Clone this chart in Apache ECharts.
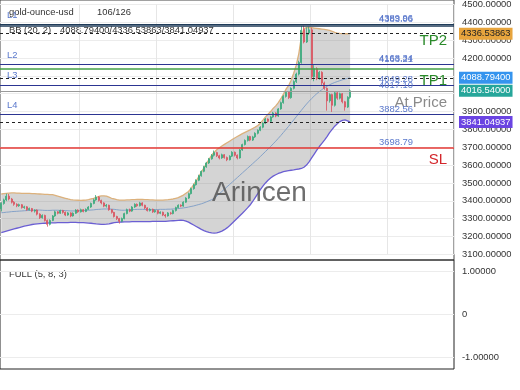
<!DOCTYPE html>
<html><head><meta charset="utf-8">
<script src="https://cdn.jsdelivr.net/npm/echarts@6/dist/echarts.min.js"></script>
<style>html,body{margin:0;padding:0;background:#fff}#c{width:520px;height:390px}</style>
</head><body><div id="c"></div>
<script>
// ---------- data ----------
const slotCount = 177; // visible time slots (candles + empty right margin)
const categories = Array.from({length: slotCount}, (_, i) => String(i));

// [open, close, low, high]
const candles = [
[3355,3385,3340,3392],[3385,3405,3378,3412],[3405,3426,3398,3440],[3426,3410,3402,3438],[3410,3392,3385,3416],
[3392,3380,3372,3398],[3380,3372,3364,3386],[3372,3378,3366,3384],[3378,3362,3356,3382],[3362,3366,3355,3372],
[3366,3350,3344,3370],[3350,3356,3345,3362],[3356,3342,3336,3360],[3342,3348,3334,3352],[3348,3325,3318,3352],
[3325,3305,3298,3330],[3305,3318,3300,3324],[3318,3290,3284,3322],[3290,3268,3255,3295],[3268,3290,3262,3296],
[3290,3315,3286,3320],[3315,3338,3310,3344],[3338,3330,3324,3342],[3330,3345,3326,3350],[3345,3335,3328,3349],
[3335,3320,3314,3340],[3320,3332,3316,3337],[3332,3315,3308,3336],[3315,3330,3311,3335],[3330,3348,3326,3353],
[3348,3338,3332,3352],[3338,3350,3334,3356],[3350,3340,3335,3354],[3340,3352,3336,3357],[3352,3365,3348,3370],
[3365,3385,3360,3390],[3385,3405,3380,3412],[3405,3420,3400,3432],[3420,3402,3396,3426],[3402,3388,3380,3406],
[3388,3370,3364,3392],[3370,3375,3362,3382],[3375,3350,3344,3378],[3350,3335,3328,3354],[3335,3312,3306,3338],
[3312,3300,3292,3316],[3300,3285,3272,3304],[3285,3300,3280,3306],[3300,3328,3296,3333],[3328,3350,3324,3356],
[3350,3342,3336,3356],[3342,3365,3338,3370],[3365,3380,3360,3386],[3380,3372,3366,3385],[3372,3388,3368,3394],
[3388,3375,3369,3392],[3375,3360,3354,3378],[3360,3345,3340,3364],[3345,3352,3340,3358],[3352,3338,3332,3356],
[3338,3346,3333,3351],[3346,3330,3324,3349],[3330,3336,3325,3341],[3336,3320,3314,3339],[3320,3315,3305,3326],
[3315,3332,3311,3337],[3332,3328,3322,3338],[3328,3345,3324,3350],[3345,3362,3340,3367],[3362,3375,3357,3380],
[3375,3370,3364,3380],[3370,3392,3366,3397],[3392,3415,3388,3420],[3415,3440,3410,3446],[3440,3468,3435,3474],
[3468,3490,3462,3496],[3490,3515,3485,3520],[3515,3540,3510,3546],[3540,3565,3535,3570],[3565,3590,3560,3596],
[3590,3612,3585,3618],[3612,3635,3606,3640],[3635,3655,3630,3662],[3655,3670,3648,3682],[3670,3652,3645,3675],
[3652,3640,3632,3658],[3640,3658,3635,3664],[3658,3642,3636,3662],[3642,3630,3622,3648],[3630,3650,3626,3655],
[3650,3672,3645,3678],[3672,3655,3648,3676],[3655,3640,3632,3660],[3640,3685,3636,3690],[3685,3715,3680,3720],
[3715,3738,3710,3744],[3738,3760,3732,3766],[3760,3740,3734,3764],[3740,3758,3735,3764],[3758,3778,3752,3784],
[3778,3795,3772,3800],[3795,3812,3790,3818],[3812,3835,3806,3840],[3835,3858,3830,3864],[3858,3845,3838,3862],
[3845,3870,3840,3876],[3870,3892,3865,3898],[3892,3875,3868,3896],[3875,3915,3870,3920],[3915,3950,3910,3956],
[3950,3985,3944,3992],[3985,4008,3978,4015],[4008,3978,3970,4012],[3978,4030,3972,4036],[4030,4068,4024,4075],
[4068,4110,4060,4118],[4110,4175,4102,4185],[4175,4355,4168,4380],[4360,4290,4282,4381],[4290,4340,4284,4372],
[4340,4358,4330,4376],[4358,4095,4080,4370],[4095,4140,4070,4160],[4140,4085,4076,4148],[4085,4120,4078,4128],
[4120,4060,4045,4126],[4060,4030,4022,4068],[4030,3960,3905,4036],[3960,3995,3950,4002],[3995,3935,3898,4000],
[3935,4005,3928,4015],[4005,3975,3966,4010],[3975,4000,3968,4006],[4000,3955,3946,4004],[3955,3925,3905,3960],
[3925,3980,3920,3986],[3980,4016.54,3972,4025]
];

const bbUpper = [
3438,3440,3442,3443,3444,3444,3443,3443,3442,3442,3441,3441,3440,3440,3439,3438,3437,3436,3436,3435,3434,
3430,3426,3422,3418,3414,3410,3407,3405,3404,3403,
3402,3403,3404,3406,3410,
3414,3419,3424,3427,3428,
3426,3420,3414,3410,3406,
3404,3404,3404,3405,3405,3406,3406,3407,3407,3407,3406,3406,3405,3405,3404,3404,3404,3404,3405,3406,
3408,3410,3414,3418,3425,3432,3442,
3452,3470,3490,3512,3535,3560,3584,3608,3632,3654,3672,3686,3697,3707,3716,3725,3734,3743,3752,3760,3768,3776,3783,3790,3797,3805,3813,
3822,3835,3852,3870,3885,3900,3918,3932,3950,3972,3998,4025,4045,4075,4115,4160,4225,4320,4365,4370,4372,4370,4368,4366,4364,4362,4360,4358,4355,4350,4344,4340,4338,4337,4336,4336,4336.53863
];
const bbMiddle = [
3333,3334,3336,3337,3339,3340,3341,3342,3343,3344,3345,
3346,3347,3347,3348,3348,3347,3346,3346,3346,3347,
3347,3347,3346,3346,3345,3344,3343,3343,3343,3344,
3345,3345,3346,3347,3348,3349,3351,3352,3353,3354,
3354,3354,3353,3352,3350,3348,3347,3347,3348,3349,
3350,3351,3352,3352,3352,3351,3350,3350,3350,3351,
3351,3352,3352,3352,3353,3353,3354,3355,3356,3358,
3360,3362,3365,3368,3371,3375,3379,3383,3388,3394,3400,3406,
3413,3426,3439,3452,3465,3478,3491,3504,3517,3530,
3543,3556,3569,3582,3595,3608,3621,3634,3648,3662,
3676,3690,3704,3719,3734,3750,3766,3783,3800,3817,
3835,3853,3871,3889,3907,3925,3942,3958,3973,3987,
4000,4012,4023,4033,4042,4050,4057,4063,4068,4073,
4078,4082,4086,4088.794
];
const bbLower = [
3222,3226,3230,3234,3238,3242,3246,3250,3254,3258,3261,3264,3267,3269,3271,3272,3273,3274,3275,3276,3276,
3276,3277,3277,3278,3278,3278,3279,3279,3279,3278,3278,3277,3276,3275,3274,
3272,3270,3269,3268,3268,3269,3271,3274,3277,3279,
3280,3281,3282,3282,3282,3283,3283,3283,3283,3283,3283,3283,3283,3284,3284,3284,3284,3285,3285,3286,3287,3288,3289,3290,3291,
3290,3286,3280,3272,3264,3256,3248,3240,3233,3227,3223,3220,3219,3220,3224,3230,3238,3248,3260,3274,3288,3302,3316,3330,3345,3360,3376,3396,3418,3440,
3462,3482,3500,3515,3528,3538,3546,3553,3558,3563,3566,3569,3571,3573,3576,3578,3581,3588,3600,3618,3640,3662,3684,3704,3722,3740,3760,3782,3800,3818,3832,3844,3851,3853,3848,3841.04937
];

const priceTicks = [3100, 4500, 100];       // min, max, step
const oscTicks = [-1, 1, 1];
const levelNames = ['L1', 'L2', 'L3', 'L4'];
const levelValues = [4383.06, 4163.21, 4049.28, 3882.56];
const extraLevelValues = [4389.96, 4168.34, 4017.10];
const bbLast = {middle: 4088.794, upper: 4336.53863, lower: 3841.04937};
const lastPrice = 4016.54;
const tp1 = 4138.6;
const tp2 = 4336.53863;
const stopLoss = 3698.79;

// ---------- chart ----------
const FONT = '"Liberation Sans", Arial, sans-serif';
const FS = 9.4;
const UP = '#3aa97c', DOWN = '#d9535f';
const LVL_TXT = '#5a78cc';
const CLEAR = 'rgba(0,0,0,0)';

function valueLabel(v) {
  return {show: true, position: 'insideEndTop', distance: [41, 1], formatter: v.toFixed(2),
          color: LVL_TXT, fontSize: FS, fontFamily: FONT, opacity: 1};
}
function tag(v, bg, fg) {
  return {show: true, position: 'end', distance: 5, formatter: v.toFixed(5), backgroundColor: bg,
          color: fg, padding: [2, 2, 1, 2], fontSize: FS, fontFamily: FONT, opacity: 1};
}
function line(v, color, width, type, label) {
  return {yAxis: v, lineStyle: {color: color, width: width, type: type, opacity: 1},
          emphasis: {disabled: true}, label: label};
}
function hidden(v, label) {
  return {yAxis: v, lineStyle: {color: CLEAR, width: 1, opacity: 1}, emphasis: {disabled: true}, label: label};
}
function bigText(txt, color, dy) {
  return {show: true, position: 'insideEndBottom', distance: [7, dy], formatter: txt, color: color,
          fontSize: 15, fontFamily: FONT, opacity: 1};
}

const navy = '#2c3592';
const mlData = [];
// invisible carriers for the text labels first (so visible lines paint above them)
mlData.push(hidden(extraLevelValues[1], valueLabel(extraLevelValues[1])));
mlData.push(hidden(extraLevelValues[2], valueLabel(extraLevelValues[2])));
levelNames.forEach((n, i) => {
  mlData.push(hidden(levelValues[i], {show: true, position: 'insideStartTop', distance: [7, 5], formatter: n,
    color: LVL_TXT, fontSize: FS, fontFamily: FONT, opacity: 1}));
});
mlData.push(hidden(tp2, bigText('TP2', '#2a8a2a', 0)));
mlData.push(hidden(lastPrice, bigText('At Price', '#8a8a8a', 5)));
mlData.push(hidden(stopLoss, bigText('SL', '#d3262b', 5)));
// visible lines
mlData.push(line(levelValues[0], '#1f3b58', 1.6, 'solid', valueLabel(levelValues[0])));
mlData.push(line(extraLevelValues[0], '#1f3b58', 1.2, 'solid', valueLabel(extraLevelValues[0])));
mlData.push(line(levelValues[1], navy, 1.2, 'solid', valueLabel(levelValues[1])));
mlData.push(line(levelValues[2], navy, 1.2, 'solid', valueLabel(levelValues[2])));
mlData.push(line(levelValues[3], navy, 1.2, 'solid', valueLabel(levelValues[3])));
mlData.push(line(tp1, '#43a047', 1.5, 'solid', bigText('TP1', '#2a8a2a', 4)));
mlData.push(line(bbLast.upper, '#222', 1, [3, 3], tag(bbLast.upper, '#e7a43d', '#222')));
mlData.push(line(bbLast.middle, '#222', 1, [3, 3], tag(bbLast.middle, '#3594ee', '#fff')));
mlData.push(line(bbLast.lower, '#222', 1, [3, 3], tag(bbLast.lower, '#6a44e2', '#fff')));
mlData.push(line(lastPrice, '#9a9a9a', 1, 'solid', tag(lastPrice, '#26a69a', '#fff')));
mlData.push(line(stopLoss, '#e53935', 1.5, 'solid', valueLabel(stopLoss)));

const chart = echarts.init(document.getElementById('c'), null, {renderer: 'canvas'});
chart.setOption({
  animation: false,
  textStyle: {fontFamily: FONT},
  grid: [
    {left: 0, right: 66, top: 3.8, height: 250.5},
    {left: 0, right: 66, top: 271.3, height: 86.4},
    {left: -5, right: 66, top: -5, height: 265, show: true, borderColor: '#444', borderWidth: 1, backgroundColor: 'transparent'},
    {left: -5, right: 66, top: 260, height: 109, show: true, borderColor: '#222', borderWidth: 1, backgroundColor: 'transparent'}
  ],
  xAxis: [
    {type: 'category', gridIndex: 0, data: categories, boundaryGap: true,
     axisLine: {show: false}, axisTick: {show: false}, axisLabel: {show: false},
     splitLine: {show: true, interval: (i) => i > 1 && i % 30 === 1, lineStyle: {color: '#e6e6e6'}}},
    {type: 'category', gridIndex: 1, data: categories, boundaryGap: true,
     axisLine: {show: false}, axisTick: {show: false}, axisLabel: {show: false}, splitLine: {show: false}},
    {type: 'value', gridIndex: 2, show: false, min: 0, max: 1, splitLine: {show: false}},
    {type: 'value', gridIndex: 3, show: false, min: 0, max: 1, splitLine: {show: false}}
  ],
  yAxis: [
    {type: 'value', gridIndex: 0, position: 'right', min: priceTicks[0], max: priceTicks[1], interval: priceTicks[2],
     axisLine: {show: false}, axisTick: {show: false},
     splitLine: {lineStyle: {color: '#ececec'}},
     axisLabel: {formatter: (v) => v.toFixed(5), margin: 8, fontSize: FS, color: '#333', fontFamily: FONT}},
    {type: 'value', gridIndex: 1, position: 'right', min: oscTicks[0], max: oscTicks[1], interval: oscTicks[2],
     axisLine: {show: false}, axisTick: {show: false},
     splitLine: {lineStyle: {color: '#ececec'}},
     axisLabel: {formatter: (v) => v === 0 ? '0' : v.toFixed(5), margin: 8, fontSize: FS, color: '#333', fontFamily: FONT}},
    {type: 'value', gridIndex: 2, show: false, min: 0, max: 1, splitLine: {show: false}},
    {type: 'value', gridIndex: 3, show: false, min: 0, max: 1, splitLine: {show: false}}
  ],
  series: [
    {name: 'bbLower', type: 'line', xAxisIndex: 0, yAxisIndex: 0, data: bbLower, stack: 'bb',
     symbol: 'none', lineStyle: {color: '#6b5fd3', width: 1.3}, silent: true, z: 1},
    {name: 'bbBand', type: 'line', xAxisIndex: 0, yAxisIndex: 0, data: bbUpper.map((u, i) => u - bbLower[i]), stack: 'bb',
     symbol: 'none', lineStyle: {color: '#dcb17c', width: 1.3}, areaStyle: {color: 'rgba(120,120,120,0.45)'}, silent: true, z: 1},
    {name: 'bbMiddle', type: 'line', xAxisIndex: 0, yAxisIndex: 0, data: bbMiddle,
     symbol: 'none', lineStyle: {color: '#7c9cc6', width: 0.9}, silent: true, z: 2},
    {name: 'gold', type: 'candlestick', xAxisIndex: 0, yAxisIndex: 0, data: candles, barWidth: 1.5, z: 3,
     itemStyle: {color: UP, color0: DOWN, borderColor: UP, borderColor0: DOWN, borderWidth: 0.8}},
    {name: 'levels', type: 'line', xAxisIndex: 0, yAxisIndex: 0, data: [], z: 4, silent: true,
     markLine: {silent: true, symbol: 'none', animation: false, data: mlData}},
    {name: 'osc', type: 'line', xAxisIndex: 1, yAxisIndex: 1, data: []}
  ],
  graphic: [
    {type: 'text', x: 9, y: 12, style: {text: 'gold-ounce-usd', fontSize: FS, fontFamily: FONT, fill: '#333', verticalAlign: 'middle'}},
    {type: 'text', x: 97, y: 12, style: {text: '106/126', fontSize: FS, fontFamily: FONT, fill: '#333', verticalAlign: 'middle'}},
    {type: 'text', x: 9, y: 30, style: {text: 'BB (20, 2)', fontSize: FS, fontFamily: FONT, fill: '#333', verticalAlign: 'middle'}},
    {type: 'text', x: 60, y: 30, style: {text: '4088.79400/4336.53863/3841.04937', fontSize: FS, fontFamily: FONT, fill: '#333', verticalAlign: 'middle'}},
    {type: 'text', x: 9, y: 274, style: {text: 'FULL (5, 8, 3)', fontSize: FS, fontFamily: FONT, fill: '#333', verticalAlign: 'middle'}},
    {type: 'text', x: 212, y: 193, z: 100, style: {text: 'Arincen', fontSize: 28, fontFamily: FONT, fill: 'rgba(85,85,85,0.85)', verticalAlign: 'middle'}}
  ]
});
</script>
</body></html>
